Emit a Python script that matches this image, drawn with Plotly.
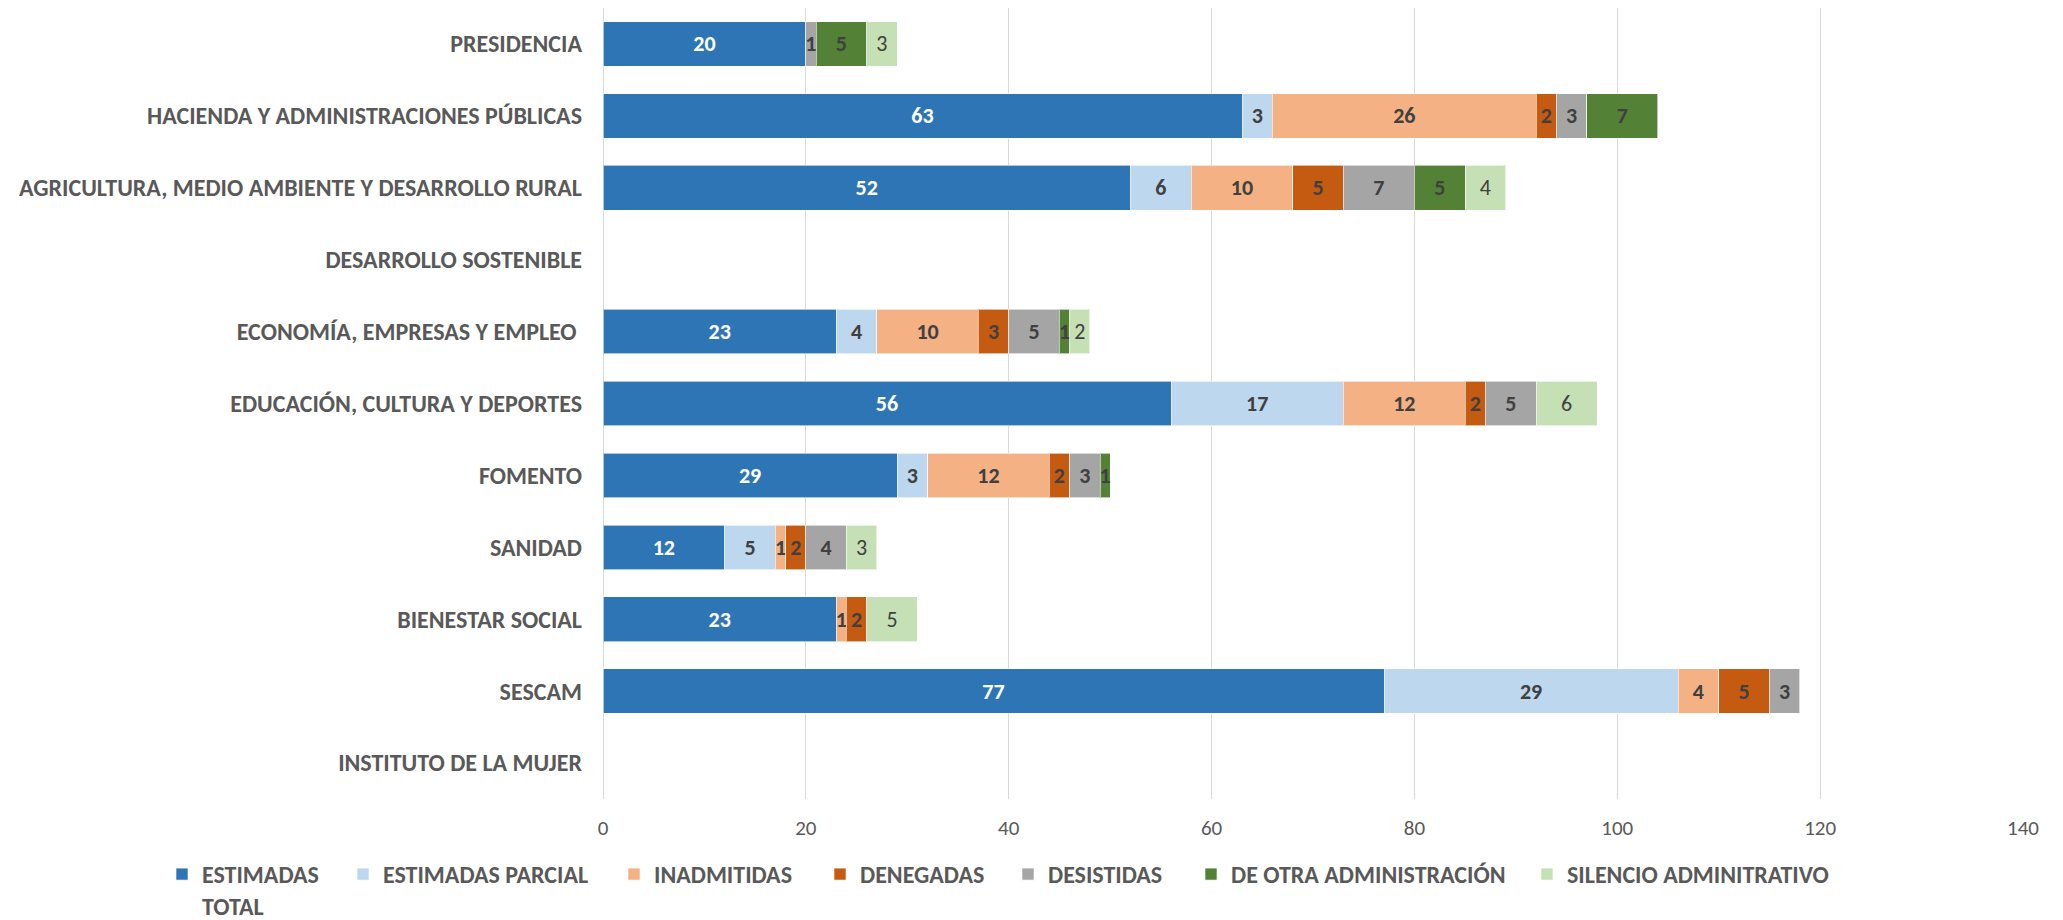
import plotly.graph_objects as go

categories = [
    "PRESIDENCIA",
    "HACIENDA Y ADMINISTRACIONES PÚBLICAS",
    "AGRICULTURA, MEDIO AMBIENTE Y DESARROLLO RURAL",
    "DESARROLLO SOSTENIBLE",
    "ECONOMÍA, EMPRESAS Y EMPLEO ",
    "EDUCACIÓN, CULTURA Y DEPORTES",
    "FOMENTO",
    "SANIDAD",
    "BIENESTAR SOCIAL",
    "SESCAM",
    "INSTITUTO DE LA MUJER",
]

estimadas_total = [20, 63, 52, None, 23, 56, 29, 12, 23, 77, None]
estimadas_parcial = [None, 3, 6, None, 4, 17, 3, 5, None, 29, None]
inadmitidas = [None, 26, 10, None, 10, 12, 12, 1, 1, 4, None]
denegadas = [None, 2, 5, None, 3, 2, 2, 2, 2, 5, None]
desistidas = [1, 3, 7, None, 5, 5, 3, 4, None, 3, None]
otra_admin = [5, 7, 5, None, 1, None, 1, None, None, None, None]
silencio = [3, None, 4, None, 2, 6, None, 3, 5, None, None]

series_names = [
    "ESTIMADAS<br>TOTAL",
    "ESTIMADAS PARCIAL",
    "INADMITIDAS",
    "DENEGADAS",
    "DESISTIDAS",
    "DE OTRA ADMINISTRACIÓN",
    "SILENCIO ADMINITRATIVO",
]
series_values = [estimadas_total, estimadas_parcial, inadmitidas, denegadas,
                 desistidas, otra_admin, silencio]
colors = ["#2E75B6", "#BDD7EE", "#F4B183", "#C55A11", "#A5A5A5", "#538135", "#C5E0B4"]
text_colors = ["#FFFFFF", "#404040", "#404040", "#404040", "#404040", "#404040", "#404040"]
text_weights = ["bold", "bold", "bold", "bold", "bold", "bold", "normal"]
# legend text start positions (page px) for each series
legend_text_x = [202, 383, 654, 860, 1048, 1231, 1567]

FONT = "Carlito, Lato, 'Open Sans', sans-serif"

# page has an 8px body margin; work in figure coordinates = page - 8
OFF = 8
W, H = 2055, 912
ML = 603 - OFF
MR = W - (2023 - OFF)
MT = 0
MB = H - (799 - OFF)
plot_w = W - ML - MR
plot_h = H - MT - MB

fig = go.Figure()
for i, (name, vals, col) in enumerate(zip(series_names, series_values, colors)):
    fig.add_trace(go.Bar(
        y=categories,
        x=vals,
        name=name,
        orientation="h",
        marker=dict(color=col, line=dict(color="rgba(255,255,255,0.6)", width=1)),
        text=[("" if v is None else str(v)) for v in vals],
        textposition="inside",
        insidetextanchor="middle",
        textangle=0,
        textfont=dict(family=FONT, size=22, color=text_colors[i], weight=text_weights[i]),
        legend="legend" if i == 0 else f"legend{i+1}",
        hoverinfo="x+name",
    ))

layout_legends = {}
leg_top = 852 - OFF
leg_y = -(leg_top - (MT + plot_h)) / plot_h
for i, tx in enumerate(legend_text_x):
    key = "legend" if i == 0 else f"legend{i+1}"
    layout_legends[key] = dict(
        x=(tx - OFF - 40 - ML) / plot_w,
        xanchor="left",
        y=leg_y,
        yanchor="top",
        orientation="h",
        font=dict(family=FONT, size=24, color="#595959", weight="bold"),
        bgcolor="rgba(0,0,0,0)",
        traceorder="normal",
        valign="top",
    )

fig.update_layout(
    width=W, height=H,
    barmode="stack",
    bargap=0.38,
    plot_bgcolor="white",
    paper_bgcolor="white",
    margin=dict(l=ML, r=MR, t=MT, b=MB, autoexpand=False),
    uniformtext=dict(minsize=22, mode="show"),
    xaxis=dict(
        range=[0, 140],
        dtick=20,
        showgrid=True,
        gridcolor="#D9D9D9",
        gridwidth=1,
        zeroline=True,
        zerolinecolor="#D9D9D9",
        zerolinewidth=1,
        showline=False,
        ticks="",
        tickfont=dict(family=FONT, size=21, color="#595959"),
        ticklabelstandoff=14,
        fixedrange=True,
    ),
    yaxis=dict(
        autorange="reversed",
        showgrid=False,
        zeroline=False,
        showline=False,
        ticks="",
        tickfont=dict(family=FONT, size=24, color="#595959", weight="bold"),
        ticklabelstandoff=20,
        fixedrange=True,
    ),
    showlegend=True,
    **layout_legends,
)

fig.write_html("out.html")
